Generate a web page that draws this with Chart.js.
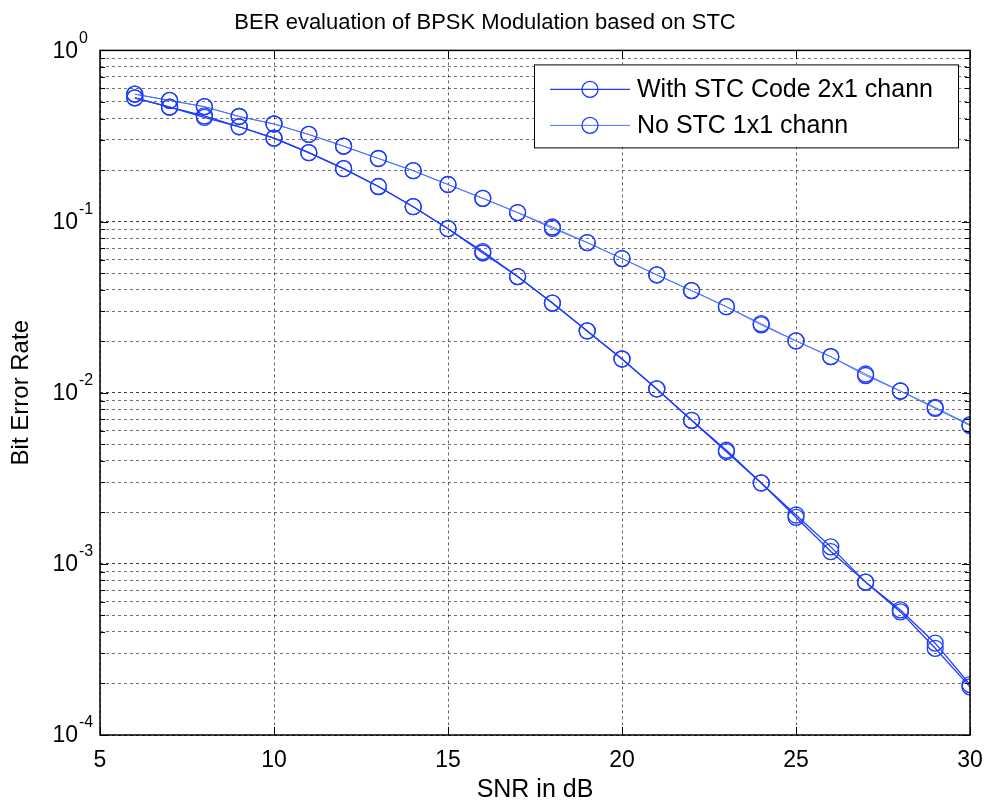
<!DOCTYPE html>
<html>
<head>
<meta charset="utf-8">
<script src="https://cdn.jsdelivr.net/npm/chart.js@4.4.1/dist/chart.umd.min.js"></script>
<style>
    body { margin: 0; background: #fff; }
    #wrap { width: 988px; height: 806px; }
</style>
</head>
<body>
<div id="wrap"><canvas id="berChart" width="988" height="806"></canvas></div>
<script>
// SNR points (dB)
var snr = [6, 7, 8, 9, 10, 11, 12, 13, 14, 15, 16, 17, 18, 19, 20, 21, 22, 23, 24, 25, 26, 27, 28, 29, 30];

// BER, two runs for each scheme
var berStc = [0.528, 0.466, 0.414, 0.358, 0.307, 0.2525, 0.2036, 0.1602, 0.1221, 0.0908, 0.0668, 0.0477, 0.0334,
    0.02295, 0.01574, 0.01052, 0.0069, 0.00461, 0.00297, 0.00193, 0.001257, 0.000782, 0.000538, 0.000344, 0.000197];
var berStc2 = [0.528, 0.466, 0.4056, 0.358, 0.307, 0.2525, 0.2036, 0.1602, 0.1221, 0.0908, 0.0655, 0.0477, 0.0334,
    0.02295, 0.01574, 0.01052, 0.0069, 0.00452, 0.00297, 0.00187, 0.00118, 0.000782, 0.000524, 0.000321, 0.000191];
var berNoStc = [0.555, 0.51, 0.469, 0.411, 0.3716, 0.3227, 0.2757, 0.2336, 0.1982, 0.1646, 0.1367, 0.1129, 0.0929,
    0.0754, 0.0608, 0.0488, 0.0395, 0.0318, 0.0253, 0.02006, 0.01624, 0.01286, 0.01023, 0.0082, 0.0065];
var berNoStc2 = [0.555, 0.51, 0.469, 0.411, 0.3716, 0.3227, 0.2757, 0.2336, 0.1982, 0.1646, 0.1367, 0.1129, 0.0912,
    0.0754, 0.0608, 0.0488, 0.0395, 0.0318, 0.0249, 0.02006, 0.01624, 0.0126, 0.01023, 0.00809, 0.00642];

var xTicks = [5, 10, 15, 20, 25, 30];
var yExponents = [0, -1, -2, -3, -4];
var legendLabels = ['With STC Code 2x1 chann', 'No STC 1x1 chann'];

var markerColor = '#1e3cff';
var darkLine = '#1e3cff';
var lightLine = '#4d74ff';
var fontName = '"Liberation Sans", Arial, sans-serif';

function pts(vals) {
    return snr.map(function (x, i) { return { x: x, y: vals[i] }; });
}

function series(label, vals, lineColor, lineWidth) {
    return {
        label: label,
        data: pts(vals),
        borderColor: lineColor,
        borderWidth: lineWidth,
        pointStyle: 'circle',
        pointRadius: 8,
        pointBorderWidth: 1.3,
        pointBorderColor: markerColor,
        pointBackgroundColor: 'rgba(0,0,0,0)',
        backgroundColor: 'rgba(0,0,0,0)',
        tension: 0
    };
}

// box, inward tick marks, y labels with exponent, legend
var matlabLook = {
    id: 'matlabLook',
    afterDraw: function (chart) {
        var ctx = chart.ctx;
        var a = chart.chartArea;
        var xs = chart.scales.x, ys = chart.scales.y;
        ctx.save();
        ctx.strokeStyle = '#000';
        ctx.lineWidth = 1;
        ctx.beginPath();
        xs.ticks.forEach(function (t) {
            var px = Math.round(xs.getPixelForValue(t.value)) + 0.5;
            ctx.moveTo(px, a.bottom); ctx.lineTo(px, a.bottom - 8);
            ctx.moveTo(px, a.top); ctx.lineTo(px, a.top + 8);
        });
        ys.ticks.forEach(function (t) {
            var py = Math.round(ys.getPixelForValue(t.value)) + 0.5;
            var len = t.major ? 8 : 5;
            ctx.moveTo(a.left, py); ctx.lineTo(a.left + len, py);
            ctx.moveTo(a.right, py); ctx.lineTo(a.right - len, py);
        });
        ctx.stroke();
        ctx.lineWidth = 1.5;
        ctx.strokeRect(a.left, a.top, a.right - a.left, a.bottom - a.top);

        // y tick labels: 10 with superscript exponent
        ctx.fillStyle = '#000';
        ctx.textBaseline = 'middle';
        yExponents.forEach(function (e) {
            var py = ys.getPixelForValue(Math.pow(10, e));
            ctx.font = '23px ' + fontName;
            ctx.textAlign = 'right';
            ctx.fillText('10', a.left - 22, py + 1);
            ctx.font = '16px ' + fontName;
            ctx.textAlign = 'left';
            ctx.fillText(String(e), a.left - 21, py - 12);
        });

        // legend
        var lx = a.right - 436, ly = a.top + 14, lw = 424, lh = 83;
        ctx.fillStyle = '#fff';
        ctx.fillRect(lx, ly, lw, lh);
        ctx.lineWidth = 1;
        ctx.strokeStyle = '#000';
        ctx.strokeRect(lx + 0.5, ly + 0.5, lw, lh);
        legendLabels.forEach(function (lab, i) {
            var ds = chart.data.datasets[i];
            var cy = ly + 25 + i * 36;
            ctx.strokeStyle = ds.borderColor;
            ctx.lineWidth = ds.borderWidth;
            ctx.beginPath();
            ctx.moveTo(lx + 16, cy); ctx.lineTo(lx + 96, cy);
            ctx.stroke();
            ctx.strokeStyle = markerColor;
            ctx.lineWidth = 1.3;
            ctx.beginPath();
            ctx.arc(lx + 56, cy, 8, 0, Math.PI * 2);
            ctx.stroke();
            ctx.fillStyle = '#000';
            ctx.font = '25px ' + fontName;
            ctx.textAlign = 'left';
            ctx.fillText(lab, lx + 103, cy + 1);
        });
        ctx.restore();
    }
};

var berCtx = document.getElementById('berChart').getContext('2d');
var berChart = new Chart(berCtx, {
    type: 'line',
    data: {
        datasets: [
            series(legendLabels[0], berStc, darkLine, 1.3),
            series(legendLabels[1], berNoStc, lightLine, 1),
            series(legendLabels[0] + ' (run 2)', berStc2, darkLine, 1.3),
            series(legendLabels[1] + ' (run 2)', berNoStc2, lightLine, 1)
        ]
    },
    options: {
        responsive: false,
        animation: false,
        layout: { padding: { top: 0, right: 18, bottom: 0, left: 0 } },
        plugins: {
            legend: { display: false },
            tooltip: { enabled: false },
            title: {
                display: true,
                text: 'BER evaluation of BPSK Modulation based on STC',
                color: '#000',
                font: { family: fontName, size: 22, weight: 'normal' },
                padding: { top: 10, bottom: 14 }
            }
        },
        scales: {
            x: {
                type: 'linear',
                min: 5,
                max: 30,
                afterBuildTicks: function (s) {
                    s.ticks = xTicks.map(function (v) { return { value: v }; });
                },
                afterFit: function (s) {
                    s.height = 71;
                    s.paddingRight = 0;
                    s.paddingLeft = 0;
                },
                grid: { color: 'rgba(0,0,0,0.6)', lineWidth: 1, drawTicks: false },
                border: { display: false, dash: [3, 3] },
                ticks: {
                    color: '#000',
                    padding: 12,
                    font: { family: fontName, size: 23 }
                },
                title: {
                    display: true,
                    text: 'SNR in dB',
                    color: '#000',
                    font: { family: fontName, size: 25 },
                    padding: { top: 0, bottom: 1 }
                }
            },
            y: {
                type: 'logarithmic',
                min: 1e-4,
                max: 1,
                afterBuildTicks: function (s) {
                    var t = [];
                    for (var e = -4; e <= 0; e++) {
                        for (var k = 1; k <= 9; k++) {
                            var v = k * Math.pow(10, e);
                            if (v <= 1) t.push({ value: v, major: k === 1 });
                        }
                    }
                    s.ticks = t;
                },
                afterFit: function (s) { s.width = 100; },
                grid: {
                    color: function (c) {
                        return c.tick && c.tick.major ? 'rgba(0,0,0,0.75)' : 'rgba(0,0,0,0.55)';
                    },
                    lineWidth: 1,
                    drawTicks: false
                },
                border: { display: false, dash: [3, 3] },
                ticks: { display: false },
                title: {
                    display: true,
                    text: 'Bit Error Rate',
                    color: '#000',
                    font: { family: fontName, size: 24 },
                    padding: { top: 7, bottom: 0 }
                }
            }
        }
    },
    plugins: [matlabLook]
});
</script>
</body>
</html>
